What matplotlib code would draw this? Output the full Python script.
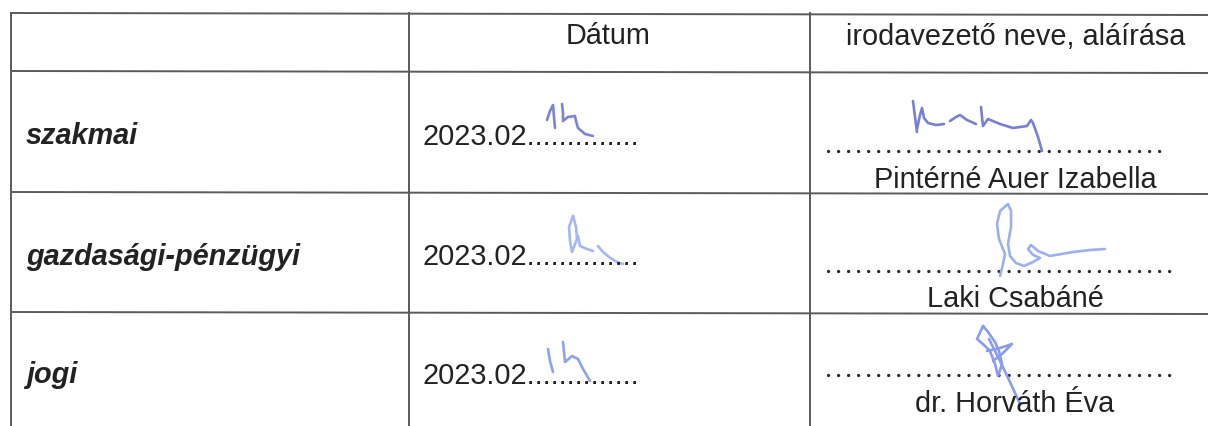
import matplotlib.pyplot as plt

# table content
header = ["", "Dátum", "irodavezető neve, aláírása"]
row_labels = ["szakmai", "gazdasági-pénzügyi", "jogi"]
dates = ["2023.02", "2023.02", "2023.02"]
names = ["Pintérné Auer Izabella", "Laki Csabáné", "dr. Horváth Éva"]

# grid of the scanned table (pixel positions on the page)
col_edges = [11, 409, 810]
row_edges = [14, 72, 193, 313]

# handwritten strokes (x, y in pixels)
date_sigs = [
    [[(547, 121), (550, 112), (553, 106), (554, 118), (555, 129)],
     [(562, 105), (563, 114), (563, 122), (568, 118), (575, 117), (576, 122),
      (578, 129), (585, 135), (593, 137)]],
    [[(573, 217), (569, 228), (570, 242), (572, 253), (577, 240), (576, 228), (573, 217)],
     [(578, 237), (580, 247), (587, 250), (593, 252)],
     [(598, 247), (603, 253), (609, 258), (617, 263), (623, 265)]],
    [[(548, 350), (550, 362), (553, 373)],
     [(563, 343), (564, 353), (565, 363), (572, 357), (578, 360), (583, 370), (590, 382)]],
]
name_sigs = [
    [[(913, 102), (915, 118), (917, 133)],
     [(917, 130), (920, 116), (922, 109), (924, 119), (928, 124), (936, 126), (944, 125)],
     [(950, 122), (956, 118), (960, 116), (967, 121), (976, 125)],
     [(981, 108), (982, 118), (983, 127), (988, 120), (1000, 125), (1013, 129),
      (1027, 127), (1031, 121), (1033, 124), (1038, 138), (1042, 152)]],
    [[(1000, 277), (1003, 265), (1005, 255), (999, 240), (997, 225), (1000, 212),
      (1008, 205), (1011, 212), (1011, 228), (1008, 245), (1010, 257), (1016, 264),
      (1024, 267), (1033, 263), (1040, 259), (1033, 256), (1028, 250), (1031, 246),
      (1038, 252), (1050, 257), (1073, 253), (1090, 251), (1105, 250)]],
    [[(983, 327), (977, 340), (984, 346), (990, 352), (995, 365), (998, 377),
      (1002, 365), (999, 352), (995, 343), (988, 333), (983, 327)],
     [(987, 352), (1000, 349), (1012, 345), (1003, 354), (993, 362)],
     [(989, 340), (1000, 362), (1010, 383), (1020, 405)]],
]
date_colors = ["#7d84d6", "#a6b6f0", "#8ea2ec"]
name_colors = ["#7a7fd0", "#9db0ee", "#8a9cec"]

W, H = 1208, 427
fig = plt.figure(figsize=(W / 100, H / 100), dpi=100)
ax = fig.add_axes([0, 0, 1, 1])
ax.set_xlim(0, W)
ax.set_ylim(H, 0)
ax.axis("off")

line_col = "#5a5a5a"
for x in col_edges:
    ax.plot([x, x], [row_edges[0], H], color=line_col, lw=1.4)
for i, y in enumerate(row_edges):
    ax.plot([col_edges[0], W], [y, y + 2], color=line_col, lw=1.4)

fs = 20.8
txt = "#222222"
font = "Liberation Sans"

ax.text(608, 44, header[1], fontsize=fs, color=txt, family=font, ha="center", va="baseline")
ax.text(1016, 45, header[2], fontsize=fs, color=txt, family=font, ha="center", va="baseline")

label_base = [144, 265, 383]
date_base = [145, 265, 384]
dots_y = [152, 272, 376]
name_base = [188, 307, 412]
dots_end = [1162, 1170, 1170]

for i in range(3):
    ax.text(26, label_base[i], row_labels[i], fontsize=fs, color=txt, family=font,
            weight="bold", style="italic", ha="left", va="baseline")
    ax.text(423, date_base[i], dates[i] + "." * 14, fontsize=fs, color=txt, family=font,
            ha="left", va="baseline")
    # dotted signature line
    ax.plot([828, dots_end[i]], [dots_y[i], dots_y[i]], color="#2a2a2a", lw=2.4,
            linestyle=(0, (0.01, 3.0)), dash_capstyle="round")
    ax.text(1015, name_base[i], names[i], fontsize=fs, color=txt, family=font,
            ha="center", va="baseline")

for strokes, c in zip(date_sigs + name_sigs, date_colors + name_colors):
    for s in strokes:
        xs = [p[0] for p in s]
        ys = [p[1] for p in s]
        ax.plot(xs, ys, color=c, lw=1.9, solid_capstyle="round", solid_joinstyle="round")

fig.savefig("out.png", dpi=100, facecolor="white")
